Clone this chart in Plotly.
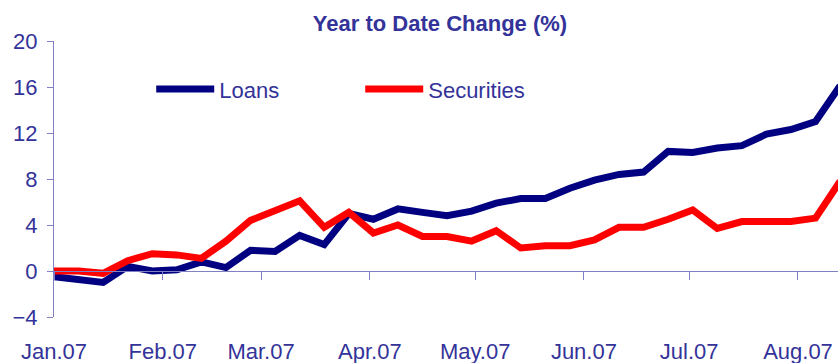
import pandas as pd
import plotly.graph_objects as go

# Weekly observations, year to date change in percent
dates = pd.date_range("2007-01-01", periods=33, freq="7D")

loans = [-0.5, -0.7, -1.0, 0.4, 0.0, 0.1, 0.8, 0.3, 1.8, 1.7, 3.1, 2.3,
         5.0, 4.5, 5.4, 5.1, 4.8, 5.2, 5.9, 6.3, 6.3, 7.2, 7.9, 8.4,
         8.6, 10.4, 10.3, 10.7, 10.9, 11.9, 12.3, 13.0, 16.1]

securities = [0.0, 0.0, -0.2, 0.9, 1.5, 1.4, 1.1, 2.6, 4.4, 5.3, 6.1, 3.8,
              5.1, 3.3, 4.0, 3.0, 3.0, 2.6, 3.5, 2.0, 2.2, 2.2, 2.7, 3.8,
              3.8, 4.5, 5.3, 3.7, 4.3, 4.3, 4.3, 4.6, 7.8]

month_starts = pd.date_range("2007-01-01", periods=8, freq="MS")
month_labels = ["Jan.07", "Feb.07", "Mar.07", "Apr.07",
                "May.07", "Jun.07", "Jul.07", "Aug.07"]

y_ticks = [-4, 0, 4, 8, 12, 16, 20]

TEXT = "#333399"
AXIS = "#8080c4"
FONT = "Arial, Liberation Sans, sans-serif"

fig = go.Figure()
fig.add_trace(go.Scatter(x=dates, y=loans, name="Loans", mode="lines",
                         line=dict(color="#000080", width=7)))
fig.add_trace(go.Scatter(x=dates, y=securities, name="Securities", mode="lines",
                         line=dict(color="#ff0000", width=7)))

# invisible helper trace so the second x axis (drawn at y = 0) is rendered
fig.add_trace(go.Scatter(x=[dates[0]], y=[0], xaxis="x2", mode="lines",
                         showlegend=False, hoverinfo="skip",
                         line=dict(color="rgba(0,0,0,0)")))

x_end = pd.Timestamp("2007-01-01") + pd.Timedelta(days=223.4)

fig.update_layout(
    width=838, height=363,
    margin=dict(l=54, r=0, t=41, b=46, autoexpand=False),
    paper_bgcolor="white", plot_bgcolor="white",
    font=dict(family=FONT, size=22, color=TEXT),
    title=dict(text="<b>Year to Date Change (%)</b>", x=440 / 838, xanchor="center",
               y=1 - 23 / 363, yanchor="middle", yref="container",
               font=dict(family=FONT, size=22, color=TEXT)),
    showlegend=True,
    legend=dict(orientation="h", x=0.124, y=0.825, xanchor="left", yanchor="middle",
                bgcolor="rgba(0,0,0,0)", itemwidth=58,
                entrywidth=136, entrywidthmode="pixels",
                font=dict(family=FONT, size=22, color=TEXT)),
    xaxis=dict(range=[pd.Timestamp("2007-01-01"), x_end],
               tickvals=month_starts, ticktext=month_labels,
               showline=False, showgrid=False, zeroline=False, automargin=False,
               ticks="outside", ticklen=15, tickcolor="rgba(0,0,0,0)",
               tickfont=dict(family=FONT, size=22, color=TEXT)),
    xaxis2=dict(matches="x", overlaying="x", anchor="free", position=4 / 24,
                side="bottom", showline=True, linecolor=AXIS, linewidth=1,
                tickvals=month_starts, showticklabels=False, automargin=False,
                ticks="outside", ticklen=8, tickcolor=AXIS, tickwidth=1,
                showgrid=False, zeroline=False),
    yaxis=dict(range=[-4, 20], tickvals=y_ticks, automargin=False,
               showline=True, linecolor=AXIS, linewidth=1,
               ticks="outside", ticklen=6, tickcolor=AXIS, tickwidth=1,
               ticklabelstandoff=5,
               showgrid=False, zeroline=False,
               tickfont=dict(family=FONT, size=22, color=TEXT)),
)

fig.write_html("out.html")
